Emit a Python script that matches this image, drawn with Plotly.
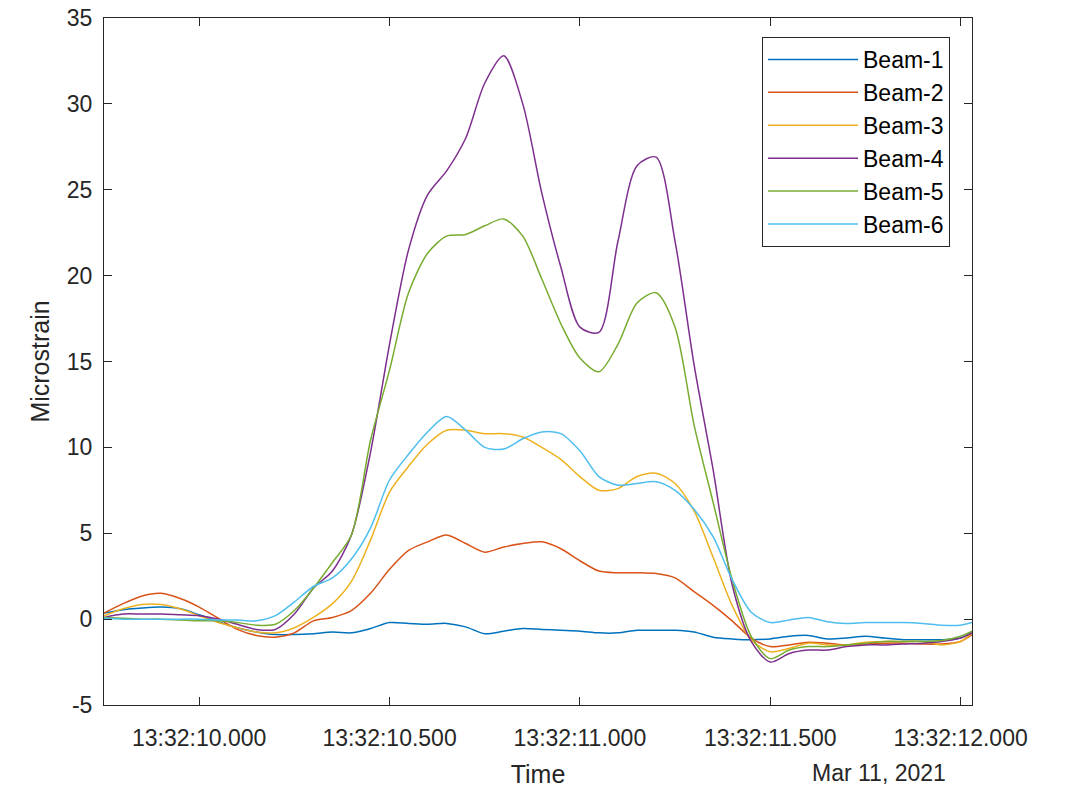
import plotly.graph_objects as go

# time in seconds after 13:32:00 on 2021-03-11
seconds = [9.75, 9.80, 9.85, 9.90, 9.95, 10.00, 10.05, 10.10, 10.15, 10.20,
           10.25, 10.30, 10.35, 10.40, 10.45, 10.50, 10.55, 10.60, 10.65, 10.70,
           10.75, 10.80, 10.85, 10.90, 10.95, 11.00, 11.05, 11.10, 11.15, 11.20,
           11.25, 11.30, 11.35, 11.40, 11.45, 11.50, 11.55, 11.60, 11.65, 11.70,
           11.75, 11.80, 11.85, 11.90, 11.95, 12.00, 12.03]

beam1 = [0.35, 0.55, 0.65, 0.7, 0.6, 0.25, -0.15, -0.5, -0.75, -0.9,
         -0.9, -0.85, -0.75, -0.8, -0.55, -0.2, -0.25, -0.3, -0.25, -0.45,
         -0.85, -0.7, -0.55, -0.6, -0.65, -0.7, -0.8, -0.8, -0.65, -0.65,
         -0.65, -0.75, -1.05, -1.15, -1.2, -1.15, -1.0, -0.95, -1.15, -1.1,
         -1.0, -1.1, -1.2, -1.2, -1.2, -1.1, -0.75]
beam2 = [0.35, 0.9, 1.35, 1.5, 1.2, 0.7, 0.05, -0.6, -0.95, -1.05,
         -0.8, -0.1, 0.1, 0.5, 1.5, 2.9, 4.0, 4.5, 4.9, 4.4,
         3.9, 4.2, 4.4, 4.5, 4.1, 3.4, 2.8, 2.7, 2.7, 2.65,
         2.4, 1.6, 0.8, -0.1, -1.1, -1.6, -1.5, -1.35, -1.4, -1.5,
         -1.45, -1.4, -1.4, -1.45, -1.45, -1.3, -0.9]
beam3 = [0.2, 0.6, 0.85, 0.85, 0.6, 0.2, -0.2, -0.5, -0.75, -0.8,
         -0.5, 0.1, 0.9, 2.2, 4.6, 7.4, 8.9, 10.2, 11.0, 11.0,
         10.8, 10.8, 10.6, 10.0, 9.3, 8.3, 7.5, 7.6, 8.3, 8.5,
         7.9, 6.3, 3.6, 0.8, -1.2, -1.9, -1.7, -1.4, -1.5, -1.5,
         -1.35, -1.3, -1.3, -1.3, -1.5, -1.3, -0.8]
beam4 = [0.1, 0.3, 0.3, 0.3, 0.25, 0.2, 0.0, -0.3, -0.6, -0.6,
         0.3, 1.8, 2.8, 4.9, 9.7, 16.0, 21.5, 24.7, 26.1, 28.0,
         31.2, 32.8, 30.0, 24.8, 20.5, 17.0, 16.7, 22.0, 26.4, 26.9,
         22.0, 14.8, 8.7, 2.0, -1.3, -2.5, -2.0, -1.8, -1.8, -1.6,
         -1.5, -1.5, -1.45, -1.4, -1.3, -1.1, -0.8]
beam5 = [0.1, 0.05, 0.0, 0.0, -0.05, -0.1, -0.1, -0.2, -0.35, -0.3,
         0.5, 1.8, 3.3, 4.9, 10.4, 14.5, 19.0, 21.3, 22.3, 22.4,
         22.9, 23.3, 22.3, 19.8, 17.2, 15.2, 14.4, 16.0, 18.4, 19.0,
         17.0, 11.3, 6.8, 2.3, -1.0, -2.3, -1.8, -1.6, -1.6, -1.5,
         -1.4, -1.3, -1.3, -1.3, -1.25, -1.0, -0.7]
beam6 = [0.05, 0.0, 0.0, 0.0, 0.0, 0.0, -0.05, -0.05, -0.1, 0.2,
         1.0, 1.9, 2.4, 3.5, 5.3, 8.1, 9.6, 10.9, 11.8, 11.0,
         10.0, 9.9, 10.5, 10.9, 10.8, 9.8, 8.3, 7.8, 7.9, 8.0,
         7.5, 6.4, 4.8, 2.3, 0.4, -0.2, -0.05, 0.1, -0.15, -0.25,
         -0.2, -0.2, -0.2, -0.25, -0.35, -0.35, -0.2]

series_names = ["Beam-1", "Beam-2", "Beam-3", "Beam-4", "Beam-5", "Beam-6"]
series_values = [beam1, beam2, beam3, beam4, beam5, beam6]
colors = ["#0072BD", "#D95319", "#EDB120", "#7E2F8E", "#77AC30", "#4DBEEE"]

tick_seconds = [10.0, 10.5, 11.0, 11.5, 12.0]
tick_labels = ["13:32:10.000", "13:32:10.500", "13:32:11.000", "13:32:11.500", "13:32:12.000"]
y_ticks = [-5, 0, 5, 10, 15, 20, 25, 30, 35]
y_tick_labels = ["-5", "0", "5", "10", "15", "20", "25", "30", "35"]


def to_dt(s):
    whole = int(s)
    ms = int(round((s - whole) * 1000))
    return f"2021-03-11 13:32:{whole:02d}.{ms:03d}"


times = [to_dt(s) for s in seconds]

FONT = "Liberation Sans, Arial, sans-serif"
AX = "#262626"

fig = go.Figure()
for name, vals, col in zip(series_names, series_values, colors):
    fig.add_trace(go.Scatter(
        x=times, y=vals, mode="lines", name=name,
        line=dict(color=col, width=1.5, shape="spline", smoothing=0.8),
    ))

fig.update_layout(
    width=1066, height=791,
    margin=dict(l=104, r=94, t=18, b=86),
    paper_bgcolor="white", plot_bgcolor="white",
    font=dict(family=FONT, color=AX, size=23),
    showlegend=True,
    legend=dict(
        x=(762 - 104) / 868, y=(705 - 37) / 687, xanchor="left", yanchor="top",
        bgcolor="white", bordercolor=AX, borderwidth=1,
        font=dict(size=23, family=FONT, color="black"),
        itemwidth=90,
    ),
    xaxis=dict(
        type="date", automargin=False,
        range=[to_dt(seconds[0]), to_dt(seconds[-1])],
        tickvals=[to_dt(s) for s in tick_seconds], ticktext=tick_labels,
        ticks="inside", ticklen=8, tickcolor=AX, tickwidth=1,
        ticklabelstandoff=12,
        showline=True, linecolor=AX, linewidth=1, mirror="allticks",
        showgrid=False, zeroline=False,
        tickfont=dict(size=23, family=FONT, color=AX),
        title=dict(text="Time", font=dict(size=25, family=FONT, color=AX), standoff=15),
    ),
    yaxis=dict(
        automargin=False,
        range=[-5, 35], tickvals=y_ticks, ticktext=y_tick_labels,
        ticks="inside", ticklen=8, tickcolor=AX, tickwidth=1,
        ticklabelstandoff=6,
        showline=True, linecolor=AX, linewidth=1, mirror="allticks",
        showgrid=False, zeroline=False,
        tickfont=dict(size=23, family=FONT, color=AX),
        title=dict(text="Microstrain", font=dict(size=25, family=FONT, color=AX), standoff=10),
    ),
    annotations=[dict(
        text="Mar 11, 2021", xref="paper", yref="paper",
        x=(948 - 104) / 868, y=-(773 - 705) / 687, xanchor="right", yanchor="middle",
        showarrow=False, font=dict(size=23, family=FONT, color=AX),
    )],
)

fig.write_html("out.html", config={"displayModeBar": False},
               post_script="document.body.style.margin='0';")
